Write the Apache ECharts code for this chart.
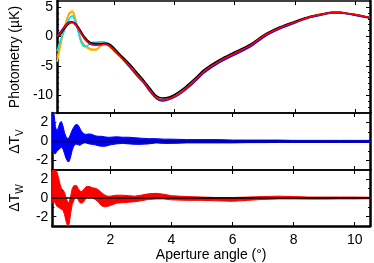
<!DOCTYPE html>
<html><head><meta charset="utf-8">
<script src="https://cdn.jsdelivr.net/npm/echarts@6/dist/echarts.min.js"></script>
<style>html,body{margin:0;padding:0;background:#fff}#c{width:374px;height:263px}</style>
</head><body><div id="c"></div>
<script>
// ---------- data ----------
const angles = [0.1,0.2,0.3,0.4,0.5,0.6,0.7,0.8,0.9,1.0,1.1,1.2,1.3,1.4,1.5,1.6,1.7,1.8,1.9,2.0,2.2,2.4,2.6,2.8,3.0,3.2,3.4,3.6,3.8,4.0,4.25,4.5,4.75,5.0,5.5,6.0,6.5,7.0,7.5,8.0,8.5,9.0,9.25,9.5,9.75,10.0,10.25,10.5];
const photYellow = [-4.3,-2.0,0.5,2.5,4.0,4.4,3.2,1.0,-0.8,-1.6,-2.0,-2.3,-2.35,-2.3,-1.8,-1.3,-1.25,-1.5,-2.0,-2.5,-3.5,-4.6,-5.8,-7.0,-8.1,-9.5,-10.6,-11.0,-10.8,-10.3,-9.5,-8.4,-7.2,-6.0,-4.3,-2.9,-1.6,0.2,1.45,2.45,3.35,3.9,4.15,4.15,3.95,3.75,3.5,3.25];
const photOrange = [-3.6,-1.5,0.8,2.6,3.8,4.1,3.0,1.0,-0.6,-1.4,-1.8,-2.1,-2.2,-2.2,-1.8,-1.4,-1.3,-1.5,-2.0,-2.5,-3.5,-4.6,-5.7,-6.9,-8.0,-9.4,-10.5,-10.95,-10.75,-10.3,-9.5,-8.4,-7.2,-6.0,-4.3,-2.95,-1.6,0.2,1.45,2.45,3.35,3.9,4.1,4.1,3.95,3.7,3.45,3.2];
const photCyan = [-2.5,-0.8,0.5,1.8,3.0,3.5,2.6,0.8,-1.0,-1.7,-1.6,-1.2,-1.0,-1.0,-0.9,-0.9,-1.0,-1.3,-1.8,-2.4,-3.4,-4.5,-5.7,-6.9,-8.0,-9.4,-10.5,-10.9,-10.7,-10.3,-9.5,-8.4,-7.2,-6.0,-4.3,-3.0,-1.7,0.1,1.35,2.35,3.25,3.8,4.0,4.0,3.85,3.65,3.4,3.15];
const photBlack = [-0.3,0.3,1.0,1.7,2.2,2.4,2.2,1.6,0.8,0.0,-0.6,-1.0,-1.15,-1.2,-1.2,-1.2,-1.15,-1.2,-1.5,-2.0,-3.1,-4.1,-5.2,-6.4,-7.6,-8.9,-10.1,-10.45,-10.35,-9.9,-9.05,-7.95,-6.8,-5.6,-3.95,-2.65,-1.4,0.35,1.6,2.55,3.4,3.9,4.1,4.1,3.9,3.7,3.45,3.2];
const photBlue = [0.1,0.7,1.4,2.0,2.45,2.5,2.1,1.4,0.5,-0.3,-0.9,-1.25,-1.35,-1.4,-1.35,-1.3,-1.3,-1.45,-1.85,-2.4,-3.4,-4.5,-5.7,-6.9,-8.0,-9.4,-10.5,-10.9,-10.7,-10.3,-9.5,-8.5,-7.3,-6.1,-4.4,-3.1,-1.8,0.0,1.3,2.3,3.2,3.8,4.0,4.0,3.85,3.6,3.35,3.1];
const photRed = [0.0,0.6,1.3,1.9,2.3,2.35,2.0,1.3,0.5,-0.3,-0.9,-1.3,-1.45,-1.5,-1.45,-1.4,-1.35,-1.5,-1.9,-2.4,-3.4,-4.4,-5.6,-6.8,-7.9,-9.3,-10.4,-10.8,-10.6,-10.2,-9.4,-8.3,-7.1,-5.9,-4.2,-2.9,-1.6,0.2,1.45,2.4,3.3,3.85,4.05,4.05,3.9,3.7,3.45,3.2];

const bandAngles = [0.1,0.15,0.2,0.25,0.3,0.35,0.4,0.45,0.5,0.55,0.6,0.65,0.7,0.75,0.8,0.85,0.9,0.95,1.0,1.05,1.1,1.15,1.2,1.3,1.4,1.5,1.6,1.7,1.8,1.9,2.0,2.2,2.4,2.6,2.8,3.0,3.25,3.5,3.75,4.0,4.5,5.0,5.5,6.0,6.5,7.0,7.5,8.0,8.5,9.0,9.5,10.0,10.5];
const dTvUpper = [3.0,3.0,1.6,1.0,1.5,2.0,2.1,1.6,0.9,0.5,0.3,0.4,0.8,1.2,1.5,1.75,1.8,1.7,1.4,1.1,0.9,0.8,0.75,0.8,0.75,0.6,0.55,0.55,0.5,0.45,0.45,0.5,0.45,0.45,0.4,0.35,0.3,0.3,0.25,0.25,0.2,0.2,0.2,0.15,0.15,0.15,0.15,0.12,0.12,0.12,0.12,0.12,0.12];
const dTvLower = [-1.0,-1.2,-1.3,-1.0,-0.9,-0.7,-0.6,-0.8,-1.3,-1.8,-2.1,-2.1,-1.6,-0.9,-0.5,-0.3,-0.3,-0.35,-0.4,-0.3,-0.2,-0.15,-0.15,-0.25,-0.3,-0.35,-0.45,-0.5,-0.5,-0.45,-0.35,-0.25,-0.2,-0.25,-0.3,-0.3,-0.25,-0.15,-0.2,-0.2,-0.15,-0.15,-0.15,-0.15,-0.12,-0.12,-0.1,-0.1,-0.1,-0.1,-0.1,-0.1,-0.1];
const dTwUpper = [3.0,3.0,3.0,2.8,2.2,1.5,1.0,0.85,0.6,0.0,-0.4,-0.5,0.2,1.0,1.3,1.35,1.3,1.0,0.75,0.7,0.8,1.0,1.2,1.25,1.1,1.05,0.9,0.6,0.35,0.2,0.2,0.3,0.3,0.25,0.2,0.3,0.45,0.5,0.4,0.25,0.15,0.1,0.05,0.05,0.1,0.15,0.2,0.15,0.1,0.1,0.1,0.1,0.08];
const dTwLower = [-0.5,-0.3,-0.6,-0.9,-1.0,-1.1,-1.2,-1.3,-1.8,-2.5,-3.0,-2.8,-1.6,-0.7,-0.3,0.1,0.1,-0.2,-0.5,-0.55,-0.5,-0.3,0.0,0.15,0.05,-0.15,-0.4,-0.8,-0.95,-0.9,-0.8,-0.55,-0.5,-0.45,-0.4,-0.3,-0.15,-0.1,-0.1,-0.2,-0.25,-0.25,-0.3,-0.35,-0.25,-0.15,-0.1,-0.1,-0.12,-0.12,-0.1,-0.1,-0.08];

const xTicks = [2,4,6,8,10];
const photTicks = [-10,-5,0,5];
const photMinorTicks = [-12,-11,-10,-9,-8,-7,-6,-5,-4,-3,-2,-1,0,1,2,3,4,5];
const dTTicks = [-2,0,2];
const dTMinorTicks = [-2,-1,0,1,2];

// ---------- chart ----------
const FONT = "'Liberation Sans', Arial, sans-serif";
const grids = [
  {left:45, right:4, top:1, height:112},
  {left:45, right:4, top:113, height:57},
  {left:45, right:4, top:170, height:57}
];
const yRanges = [[-13,6],[-3,3],[-3,3]];
const yMajor = [photTicks, dTTicks, dTTicks];
const yMinor = [photMinorTicks, dTMinorTicks, dTMinorTicks];
const yNames = ['Photometry (\u00b5K)', '{d|\u0394T}{s|V}', '{d|\u0394T}{s|W}'];
const yNameGaps = [31, 27, 27];

const xAxis = [], yAxis = [];
grids.forEach((g, i) => {
  ['bottom','top'].forEach(pos => {
    const isMainBottom = (i === 2 && pos === 'bottom');
    xAxis.push({
      type:'value', gridIndex:i, position:pos, min:0.1, max:10.5,
      axisLine:{show:true, onZero:false, lineStyle:{color:'#000', width: isMainBottom ? 2.5 : 1.5}},
      axisTick:{show:true, inside:true, length:4, customValues:xTicks, lineStyle:{color:'#000', width:1}},
      axisLabel:{show:isMainBottom, customValues:xTicks, margin:7, fontSize:14, color:'#000', fontFamily:FONT},
      splitLine:{show:false},
      name: isMainBottom ? 'Aperture angle (\u00b0)' : '',
      nameLocation:'middle', nameGap:22,
      nameTextStyle:{fontSize:14, color:'#000', fontFamily:FONT}
    });
  });
  const [mn, mx] = yRanges[i];
  yAxis.push({
    type:'value', gridIndex:i, position:'left', min:mn, max:mx,
    axisLine:{show:true, onZero:false, lineStyle:{color:'#000', width:2.5}},
    axisTick:{show:true, inside:true, length:4, customValues:yMajor[i], lineStyle:{color:'#000', width:1}},
    axisLabel:{show:true, customValues:yMajor[i], margin:4, fontSize:14, color:'#000', fontFamily:FONT},
    splitLine:{show:false},
    name:yNames[i], nameLocation:'middle', nameRotate:90, nameGap:yNameGaps[i],
    nameTextStyle:{fontSize:14, color:'#000', fontFamily:FONT,
      rich:{d:{fontSize:14, fontFamily:FONT, color:'#000', lineHeight:20, verticalAlign:'middle'},
            s:{fontSize:10, fontFamily:FONT, color:'#000', lineHeight:20, verticalAlign:'bottom'}}}
  });
  yAxis.push({
    type:'value', gridIndex:i, position:'right', min:mn, max:mx,
    axisLine:{show:true, onZero:false, lineStyle:{color:'#000', width:2.5}},
    axisTick:{show:true, inside:true, length:4, customValues:yMajor[i], lineStyle:{color:'#000', width:1}},
    axisLabel:{show:false}, splitLine:{show:false}
  });
  ['left','right'].forEach(pos => {
    yAxis.push({
      type:'value', gridIndex:i, position:pos, min:mn, max:mx,
      axisLine:{show:false},
      axisTick:{show:true, inside:true, length:2, customValues:yMinor[i], lineStyle:{color:'#000', width:1}},
      axisLabel:{show:false}, splitLine:{show:false}
    });
  });
});

function lineSeries(vals, color, z) {
  return {
    type:'line', xAxisIndex:0, yAxisIndex:0, z:z,
    data: angles.map((a, k) => [a, vals[k]]),
    showSymbol:false, symbol:'none', smooth:0.35,
    lineStyle:{color:color, width:1.6}
  };
}
function band(upper, lower, color, gi) {
  const xi = gi * 2, yi = gi * 4;
  return [
    {
      type:'custom', xAxisIndex:xi, yAxisIndex:yi, clip:true, z:3, silent:true,
      data: bandAngles.map((a,k) => [a, lower[k], upper[k]]),
      encode:{x:0, y:[1,2]},
      renderItem: function (params, api) {
        if (params.dataIndex !== 0) return null;
        const pts = [];
        for (let k = 0; k < bandAngles.length; k++) pts.push(api.coord([bandAngles[k], upper[k]]));
        for (let k = bandAngles.length - 1; k >= 0; k--) pts.push(api.coord([bandAngles[k], lower[k]]));
        return {type:'polygon', shape:{points:pts}, style:{fill:color, stroke:color, lineWidth:1}};
      }
    },
    {
      type:'line', xAxisIndex:xi, yAxisIndex:yi, z:4, silent:true,
      data: bandAngles.map(a => [a, 0]),
      symbol:'none', lineStyle:{color:'#000', width:1.5}
    }
  ];
}

const series = [
  lineSeries(photYellow, '#ffd21f', 2),
  lineSeries(photOrange, '#ffa000', 2),
  lineSeries(photCyan, '#00e0f0', 2),
  lineSeries(photBlack, '#000000', 3),
  lineSeries(photBlue, '#0000ff', 4),
  lineSeries(photRed, '#ff0000', 5),
  ...band(dTvUpper, dTvLower, '#0000ff', 1),
  ...band(dTwUpper, dTwLower, '#ff0000', 2)
];

const chart = echarts.init(document.getElementById('c'), null, {renderer:'canvas'});
chart.setOption({
  animation:false,
  backgroundColor:'#fff',
  grid:grids,
  xAxis:xAxis,
  yAxis:yAxis,
  series:series
});
</script>
</body></html>
